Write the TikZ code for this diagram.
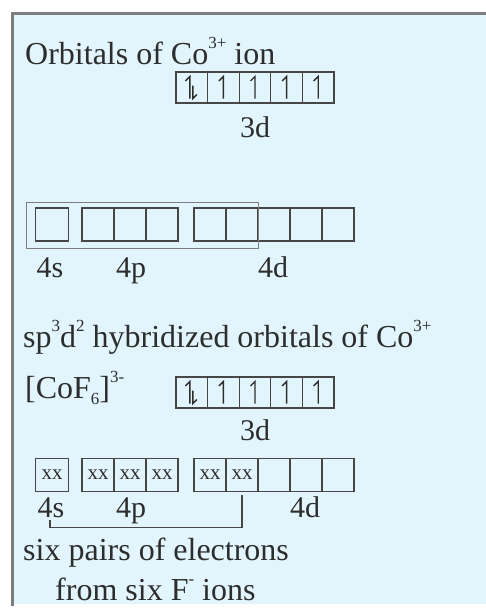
\documentclass[tikz,border=0pt]{standalone}
\usepackage{fontspec}
\setmainfont{Liberation Serif}
\usetikzlibrary{calc}
\definecolor{bgblue}{RGB}{226,245,253}
\definecolor{framegray}{RGB}{125,125,125}
\definecolor{ink}{RGB}{45,45,45}
\definecolor{boxline}{RGB}{70,70,70}
\newcommand{\uph}[2][0]{\draw[harp] ($(#2)+(#1,11)$) -- ($(#2)+(#1,-11)$) -- ($(#2)+(#1-4.5,-6.5)$);}
\newcommand{\dnh}[2][0]{\draw[harp] ($(#2)+(#1,-2)$) -- ($(#2)+(#1,11)$) -- ($(#2)+(#1+4,7)$);}
\newcommand{\sups}[1]{\raisebox{0.48em}{\fontsize{17}{17}\selectfont #1}}
\newcommand{\subs}[1]{\raisebox{-0.2em}{\fontsize{17}{17}\selectfont #1}}
\begin{document}
\begin{tikzpicture}[x=1pt,y=-1pt,
  txt/.style={font=\fontsize{32}{32}\selectfont, text=ink, inner sep=0pt, anchor=base west},
  lbl/.style={font=\fontsize{30}{30}\selectfont, text=ink, inner sep=0pt, anchor=base},
  orb/.style={draw=boxline, line width=1.3pt, minimum width=32pt, minimum height=33pt, inner sep=0pt, outer sep=0pt, font=\fontsize{21}{21}\selectfont, text=ink},
  orbn/.style={orb, minimum width=31.6pt, minimum height=31pt},
  harp/.style={draw=ink, line width=1.4pt},
  grpbox/.style={draw=framegray, line width=1pt},
  bracket/.style={draw=boxline, line width=1.3pt}
]
\useasboundingbox (0,0) rectangle (485,610);
\fill[white] (0,0) rectangle (485,610);
\fill[bgblue] (12,14) rectangle (490,604);
\draw[framegray, line width=3pt] (12,606) -- (12,14) -- (490,14);

% first block
\node[txt] (t1) at (25,64) {Orbitals of Co\sups{3+} ion};
\node[orbn] (a1) at (191.8,87.5) {};
\node[orbn] (a2) at (223.4,87.5) {};
\node[orbn] (a3) at (255,87.5) {};
\node[orbn] (a4) at (286.6,87.5) {};
\node[orbn] (a5) at (318.2,87.5) {};
\uph[-2]{a1} \dnh[1]{a1}
\uph{a2} \uph{a3} \uph{a4} \uph{a5}
\node[lbl] (l3da) at (255,137) {3d};

% second block
\node[orb, minimum width=33pt] (s2) at (52,224.5) {};
\node[orb] (p21) at (98,224.5) {};
\node[orb] (p22) at (130,224.5) {};
\node[orb] (p23) at (162,224.5) {};
\node[orb] (d21) at (210,224.5) {};
\node[orb] (d22) at (242,224.5) {};
\node[orb] (d23) at (274,224.5) {};
\node[orb] (d24) at (306,224.5) {};
\node[orb] (d25) at (338,224.5) {};
\draw[grpbox] ($(s2.north west)+(-9,-6)$) rectangle ($(d22.south east)+(0,7)$);
\node[lbl] (l4s2) at (50,277) {4s};
\node[lbl] (l4p2) at (131,277) {4p};
\node[lbl] (l4d2) at (273,277) {4d};

% third block
\node[txt] (t2) at (23,347) {sp\sups{3}d\sups{2} hybridized orbitals of Co\sups{3+}};
\node[txt] (t3) at (25,398) {[CoF\subs{6}]\sups{3-}};
\node[orbn] (b1) at (191.8,392.5) {};
\node[orbn] (b2) at (223.4,392.5) {};
\node[orbn] (b3) at (255,392.5) {};
\node[orbn] (b4) at (286.6,392.5) {};
\node[orbn] (b5) at (318.2,392.5) {};
\uph[-2]{b1} \dnh[1]{b1}
\uph{b2} \uph{b3} \uph{b4} \uph{b5}
\node[lbl] (l3db) at (255,440) {3d};

% fourth block
\node[orb, minimum width=33pt] (s4) at (52,475) {xx};
\node[orb] (p41) at (98,475) {xx};
\node[orb] (p42) at (130,475) {xx};
\node[orb] (p43) at (162,475) {xx};
\node[orb] (d41) at (210,475) {xx};
\node[orb] (d42) at (242,475) {xx};
\node[orb] (d43) at (274,475) {};
\node[orb] (d44) at (306,475) {};
\node[orb] (d45) at (338,475) {};
\node[lbl] (l4s4) at (51,517) {4s};
\node[lbl] (l4p4) at (131,517) {4p};
\node[lbl] (l4d4) at (305,517) {4d};
\coordinate (brl) at (50,520);
\coordinate (brr) at ($(d42.south)+(0,3)$);
\draw[bracket] (brl) |- ($(brr)+(0,33)$) -- (brr);

\node[txt] (t4) at (23,560) {six pairs of electrons};
\node[txt] (t5) at (55,600) {from six F\sups{-} ions};
\end{tikzpicture}
\end{document}
